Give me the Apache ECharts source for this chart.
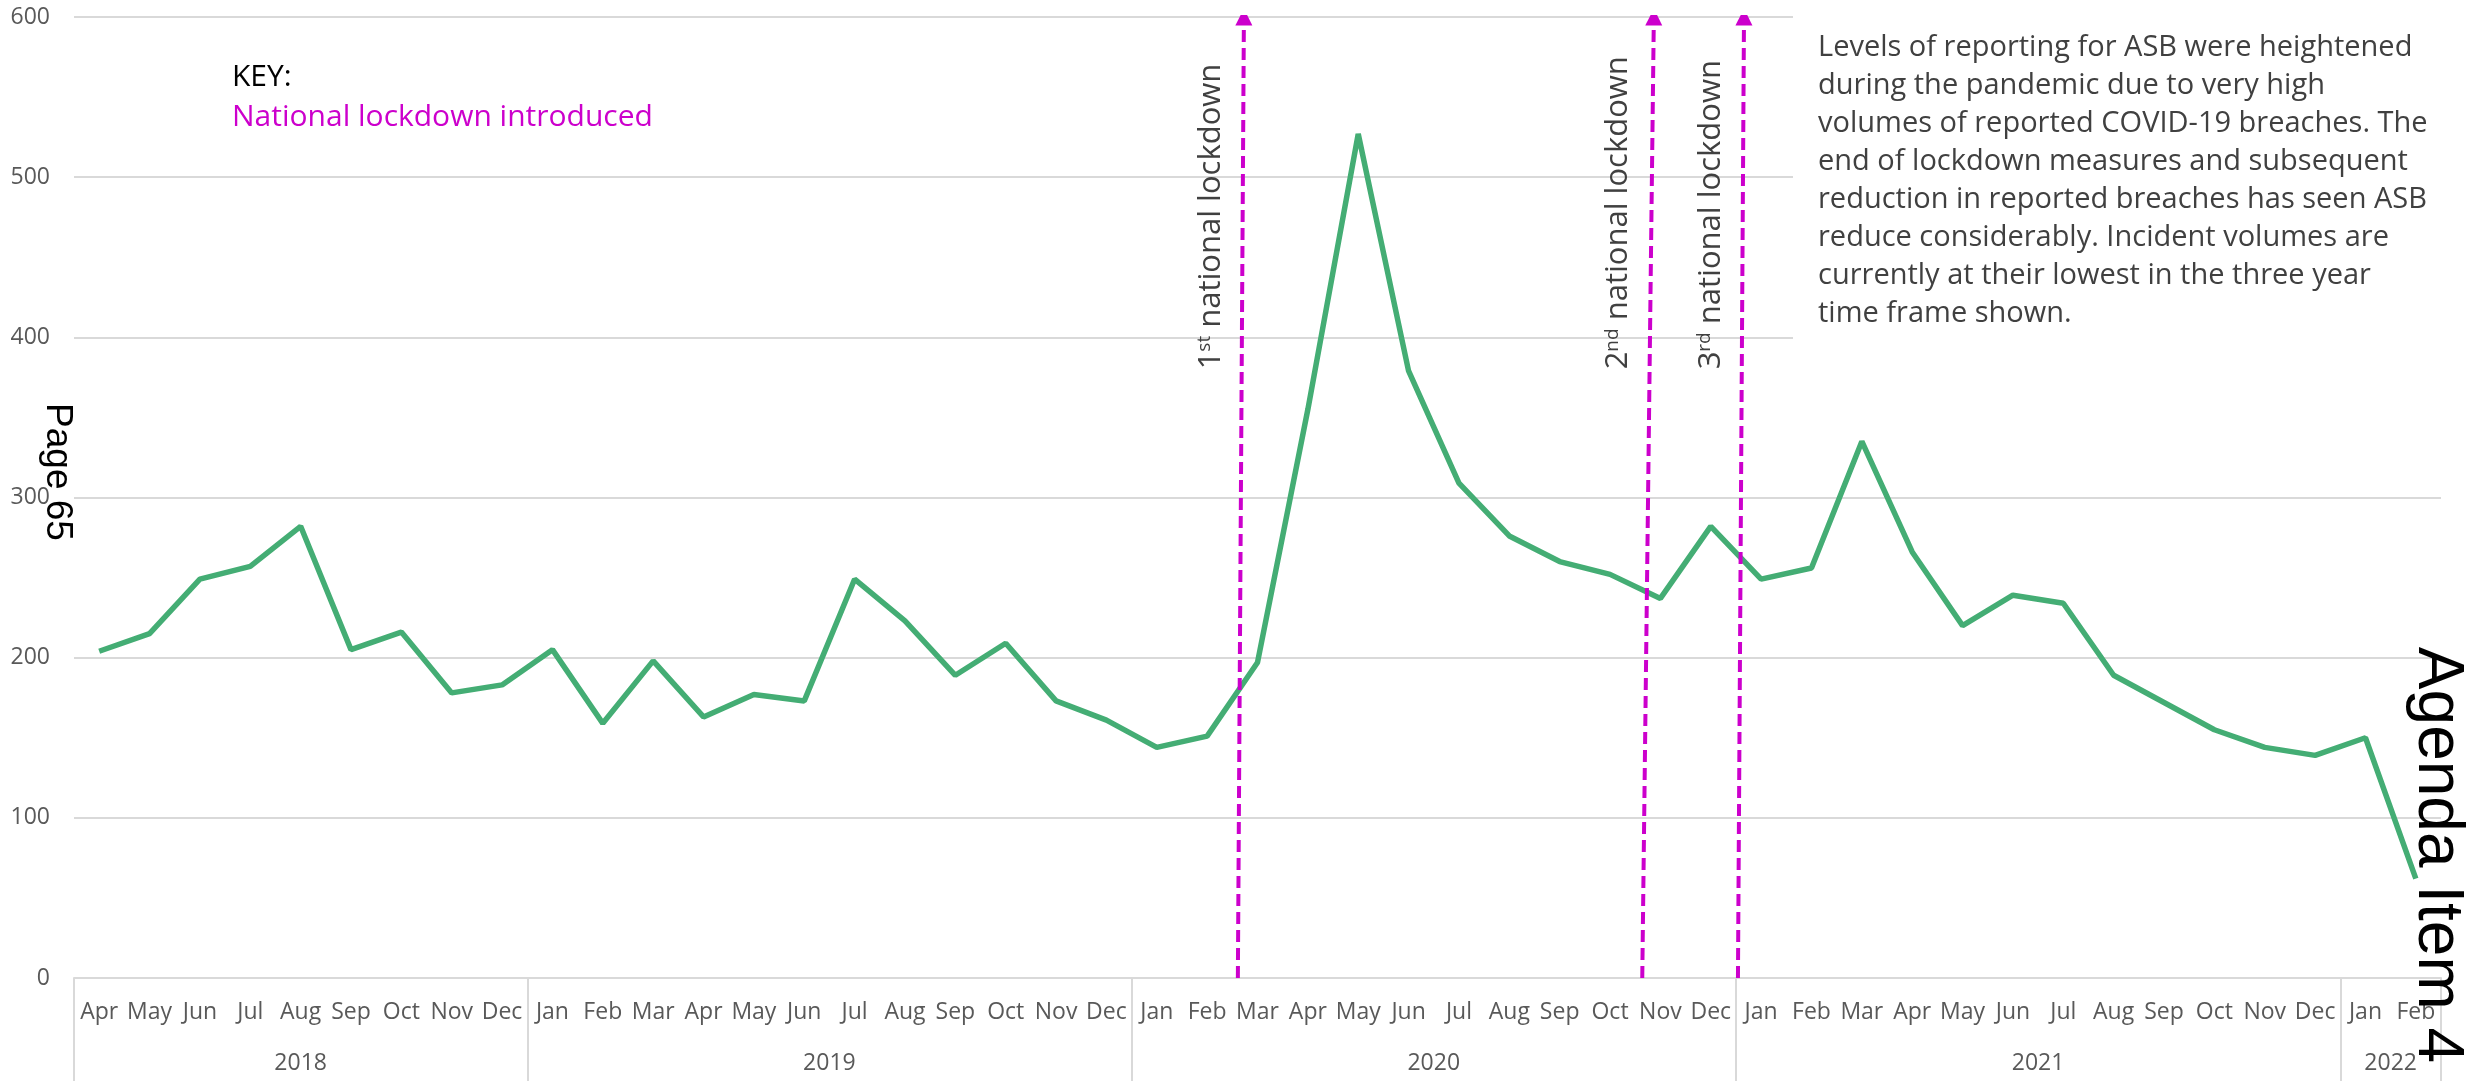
<!DOCTYPE html>
<html>
<head>
<meta charset="utf-8">
<script src="https://cdn.jsdelivr.net/npm/echarts@6/dist/echarts.min.js"></script>
<style>
  html, body { margin: 0; padding: 0; background: #ffffff; }
  #chart { width: 2473px; height: 1081px; }
</style>
</head>
<body>
<div id="chart"></div>
<script>
// Monthly ASB incident counts, April 2018 – February 2022
const months = [
  'Apr', 'May', 'Jun', 'Jul', 'Aug', 'Sep', 'Oct', 'Nov', 'Dec',
  'Jan', 'Feb', 'Mar', 'Apr', 'May', 'Jun', 'Jul', 'Aug', 'Sep', 'Oct', 'Nov', 'Dec',
  'Jan', 'Feb', 'Mar', 'Apr', 'May', 'Jun', 'Jul', 'Aug', 'Sep', 'Oct', 'Nov', 'Dec',
  'Jan', 'Feb', 'Mar', 'Apr', 'May', 'Jun', 'Jul', 'Aug', 'Sep', 'Oct', 'Nov', 'Dec',
  'Jan', 'Feb'
];
const yearLabels = ['2018', '2019', '2020', '2021', '2022'];
const yearStart = [0, 9, 21, 33, 45];   // first month index of each year

const asb2018 = [204, 215, 249, 257, 282, 205, 216, 178, 183];
const asb2019 = [205, 159, 198, 163, 177, 173, 249, 223, 189, 209, 173, 161];
const asb2020 = [144, 151, 197, 355, 527, 379, 309, 276, 260, 252, 237, 282];
const asb2021 = [249, 256, 335, 266, 220, 239, 234, 189, 172, 155, 144, 139];
const asb2022 = [150, 62];
const asbValues = [].concat(asb2018, asb2019, asb2020, asb2021, asb2022);

const yTicks = [0, 100, 200, 300, 400, 500, 600];

// National lockdowns, as month positions on the time axis (bottom / top of the arrow)
const lockdownOrdinal = ['1st', '2nd', '3rd'];
const lockdownFrom = [22.61, 30.64, 32.54];
const lockdownTo = [22.73, 30.87, 32.66];

const noteText = [
  'Levels of reporting for ASB were heightened',
  'during the pandemic due to very high',
  'volumes of reported COVID-19 breaches. The',
  'end of lockdown measures and subsequent',
  'reduction in reported breaches has seen ASB',
  'reduce considerably. Incident volumes are',
  'currently at their lowest in the three year',
  'time frame shown.'
];

const UI_FONT = "'Open Sans', 'Noto Sans', sans-serif";
const AXIS_GREY = '#595959';
const GRID_GREY = '#D9D9D9';
const MAGENTA = '#CC00CC';

const chart = echarts.init(document.getElementById('chart'), null, { renderer: 'canvas' });

function yearEnd(k) {
  return k + 1 < yearStart.length ? yearStart[k + 1] : months.length;
}
// band index that carries each year's label, and whether it needs a half-band shift
const yearLabelAt = {};
yearLabels.forEach(function (y, k) {
  const c = (yearStart[k] + yearEnd(k)) / 2;
  const idx = Math.floor(c - 0.5);
  yearLabelAt[idx] = { text: y, half: Math.abs(c - (idx + 0.5)) > 0.01 };
});

const lockdownLines = lockdownFrom.map(function (x0, k) {
  return { coords: [[x0, 0], [lockdownTo[k], 600]] };
});

function buildOption(bandWidth) {
  return {
    animation: false,
    backgroundColor: '#ffffff',
    grid: { left: 74, right: 32, top: 17, bottom: 103, containLabel: false },
    xAxis: [
      {
        type: 'category',
        data: months,
        position: 'bottom',
        boundaryGap: true,
        axisLine: { show: true, lineStyle: { color: GRID_GREY, width: 2 } },
        axisTick: { show: false },
        axisLabel: { interval: 0, margin: 23, color: AXIS_GREY, fontSize: 23, fontFamily: UI_FONT }
      },
      {
        type: 'category',
        data: months,
        position: 'bottom',
        boundaryGap: true,
        axisLine: { show: false },
        axisTick: {
          show: true,
          length: 110,
          interval: function (i) { return yearStart.indexOf(i) >= 0; },
          lineStyle: { color: GRID_GREY, width: 2 }
        },
        axisLabel: {
          interval: function (i) { return yearLabelAt[i] != null; },
          margin: 74,
          color: AXIS_GREY,
          fontSize: 23,
          fontFamily: UI_FONT,
          formatter: function (v, i) {
            const item = yearLabelAt[i];
            if (!item) return '';
            return (item.half ? '{h|' : '{c|') + item.text + '}';
          },
          rich: {
            c: { color: AXIS_GREY, fontSize: 23, fontFamily: UI_FONT },
            h: { color: AXIS_GREY, fontSize: 23, fontFamily: UI_FONT, padding: [0, 0, 0, bandWidth] }
          }
        }
      },
      {
        // continuous month scale used to place the lockdown arrows between month centres
        type: 'value',
        show: false,
        position: 'top',
        min: -0.5,
        max: months.length - 0.5
      }
    ],
    yAxis: {
      type: 'value',
      min: yTicks[0],
      max: yTicks[yTicks.length - 1],
      interval: yTicks[1] - yTicks[0],
      axisLine: { show: false },
      axisTick: { show: false },
      splitLine: { show: true, lineStyle: { color: GRID_GREY, width: 2 } },
      axisLabel: { margin: 24, color: AXIS_GREY, fontSize: 23, fontFamily: UI_FONT }
    },
    series: [
      {
        name: 'ASB incidents',
        type: 'line',
        xAxisIndex: 0,
        yAxisIndex: 0,
        data: asbValues,
        showSymbol: false,
        symbol: 'none',
        lineStyle: { color: '#44AD74', width: 5.5 },
        itemStyle: { color: '#44AD74' },
        z: 3
      },
      {
        name: 'National lockdown',
        type: 'lines',
        coordinateSystem: 'cartesian2d',
        xAxisIndex: 2,
        yAxisIndex: 0,
        polyline: false,
        symbol: ['none', 'triangle'],
        symbolSize: 17,
        lineStyle: { color: MAGENTA, width: 4, type: [12, 6], opacity: 1, curveness: 0 },
        data: lockdownLines,
        silent: true,
        z: 4
      }
    ]
  };
}

chart.setOption(buildOption(50));
const bw = chart.convertToPixel({ xAxisIndex: 0 }, 1) - chart.convertToPixel({ xAxisIndex: 0 }, 0);
chart.setOption(buildOption(bw), true);

// annotations
const graphics = [];

// white panel behind the commentary, over the gridlines
graphics.push({
  type: 'rect', z: 1,
  shape: { x: 1793, y: 0, width: 680, height: 345 },
  style: { fill: '#ffffff' }
});
graphics.push({
  type: 'text', z: 5,
  x: 1818, y: 29,
  style: {
    text: noteText.join('\n'),
    fill: '#404040',
    fontSize: 29,
    lineHeight: 38,
    fontFamily: UI_FONT,
    textAlign: 'left',
    textVerticalAlign: 'top'
  }
});

// key
graphics.push({
  type: 'text', z: 5, x: 232, y: 77,
  style: { text: 'KEY:', fill: '#000000', fontSize: 30, fontFamily: UI_FONT, textAlign: 'left', textVerticalAlign: 'middle' }
});
graphics.push({
  type: 'text', z: 5, x: 232, y: 117,
  style: { text: 'National lockdown introduced', fill: MAGENTA, fontSize: 30, fontFamily: UI_FONT, textAlign: 'left', textVerticalAlign: 'middle' }
});

// vertical lockdown captions beside each arrow
lockdownOrdinal.forEach(function (ord, k) {
  const v = 380;
  const xi = lockdownFrom[k] + (lockdownTo[k] - lockdownFrom[k]) * (v / 600);
  const p = chart.convertToPixel({ xAxisIndex: 2, yAxisIndex: 0 }, [xi, v]);
  const digit = ord.charAt(0);
  const suffix = ord.slice(1);
  graphics.push({
    type: 'text', z: 5,
    x: p[0] - 31, y: p[1],
    rotation: Math.PI / 2,
    style: {
      text: digit + '{s|' + suffix + '} national lockdown',
      fill: '#404040',
      fontSize: 31,
      fontFamily: UI_FONT,
      textAlign: 'left',
      textVerticalAlign: 'middle',
      rich: {
        s: { fontSize: 19, fill: '#404040', fontFamily: UI_FONT, verticalAlign: 'top' }
      }
    }
  });
});

// page furniture
graphics.push({
  type: 'text', z: 6, x: 57, y: 472, rotation: -Math.PI / 2,
  style: { text: 'Page 65', fill: '#000000', fontSize: 37, fontFamily: "'Liberation Sans', Arial, sans-serif", textAlign: 'center', textVerticalAlign: 'middle' }
});
graphics.push({
  type: 'text', z: 6, x: 2437, y: 855, rotation: -Math.PI / 2,
  style: { text: 'Agenda Item 4', fill: '#000000', fontSize: 64, fontFamily: "'Liberation Sans', Arial, sans-serif", textAlign: 'center', textVerticalAlign: 'middle' }
});

chart.setOption({ graphic: { elements: graphics } });
</script>
</body>
</html>
